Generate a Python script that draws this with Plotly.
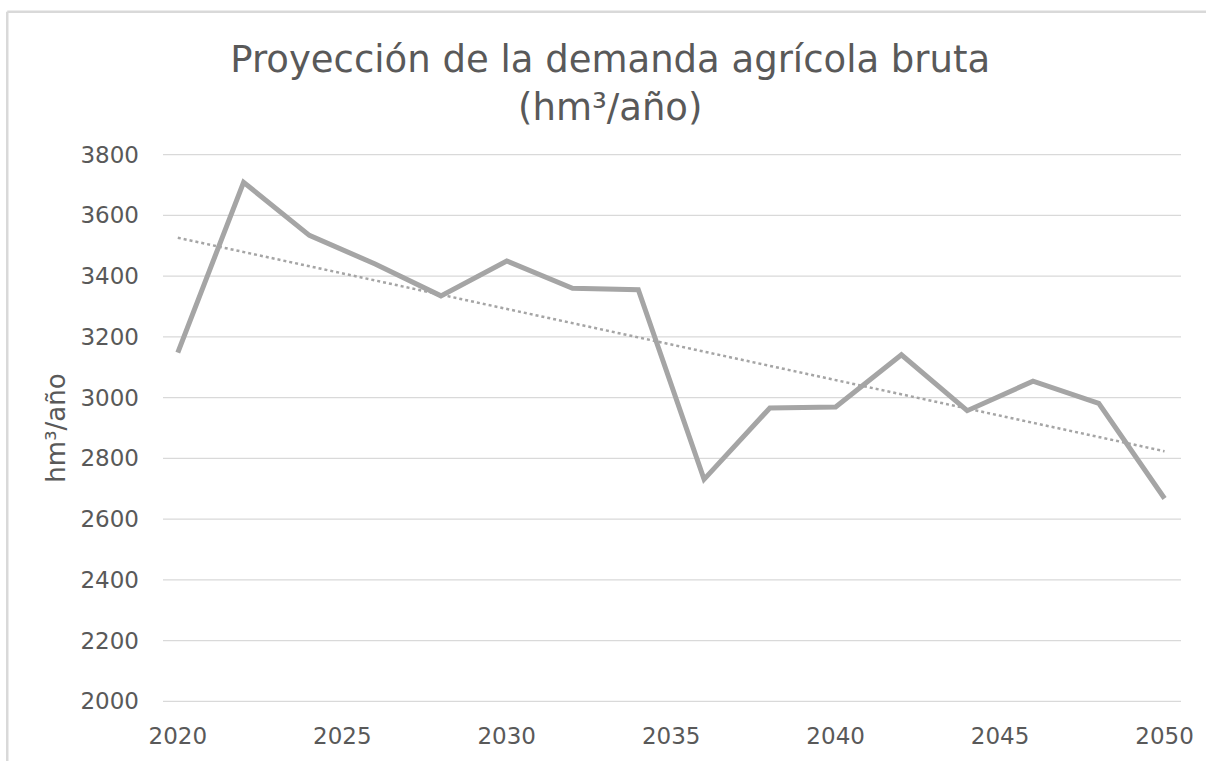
import numpy as np
import plotly.graph_objects as go

years = [2020, 2022, 2024, 2026, 2028, 2030, 2032, 2034,
         2036, 2038, 2040, 2042, 2044, 2046, 2048, 2050]
demanda = [3148, 3709, 3534, 3440, 3335, 3450, 3360, 3355,
           2731, 2966, 2969, 3141, 2957, 3054, 2981, 2668]

x_ticks = [2020, 2025, 2030, 2035, 2040, 2045, 2050]
y_ticks = [2000, 2200, 2400, 2600, 2800, 3000, 3200, 3400, 3600, 3800]

title_text = "Proyección de la demanda agrícola bruta<br>(hm³/año)"
y_title = "hm³/año"

# linear trend line (least squares on the series)
coef = np.polyfit(years, demanda, 1)
trend_x = [years[0], years[-1]]
trend_y = list(np.polyval(coef, trend_x))

FONT = "DejaVu Sans"
TXT = "#595959"
GRID = "#D9D9D9"

fig = go.Figure()
fig.add_trace(go.Scatter(
    x=years, y=demanda, mode="lines",
    line=dict(color="#A5A5A5", width=5),
    showlegend=False, hoverinfo="x+y",
))
fig.add_trace(go.Scatter(
    x=trend_x, y=trend_y, mode="lines",
    line=dict(color="#A5A5A5", width=2.5, dash="dot"),
    showlegend=False, hoverinfo="skip",
))

# horizontal gridlines at every y tick (incl. the range ends)
grid_shapes = [
    dict(type="line", xref="paper", yref="y", x0=0, x1=1, y0=v, y1=v,
         layer="below", line=dict(color=GRID, width=1.3))
    for v in y_ticks
]

frame_shapes = [
    dict(type="line", xref="paper", yref="paper",
         x0=-0.153, x1=1.05, y0=(705 - 11) / 551, y1=(705 - 11) / 551,
         line=dict(color=GRID, width=2.5)),
    dict(type="line", xref="paper", yref="paper",
         x0=-0.153, x1=-0.153, y0=(705 - 11) / 551, y1=-0.2,
         line=dict(color=GRID, width=2.5)),
]

fig.update_layout(
    width=1206, height=761,
    margin=dict(l=163, r=19, t=154, b=56),
    paper_bgcolor="white", plot_bgcolor="white",
    font=dict(family=FONT, color=TXT, size=23),
    title=dict(text=title_text, x=0.506, xanchor="center",
               y=1 - 72 / 761, yanchor="middle",
               font=dict(family=FONT, size=37, color=TXT)),
    xaxis=dict(range=[2019.55, 2050.5], tickvals=x_ticks,
               showgrid=False, zeroline=False, showline=False,
               ticks="", tickfont=dict(size=23, color=TXT),
               ticklabelstandoff=18),
    yaxis=dict(range=[1998, 3802], tickvals=y_ticks,
               showgrid=False, zeroline=False, showline=False, ticks="",
               tickfont=dict(size=23, color=TXT),
               ticklabelstandoff=23,
               title=dict(text=y_title, standoff=7,
                          font=dict(size=26, color=TXT))),
    shapes=grid_shapes + frame_shapes,
)

fig.write_html("out.html",
               config={"displayModeBar": False},
               post_script="document.body.style.margin='0px';")
